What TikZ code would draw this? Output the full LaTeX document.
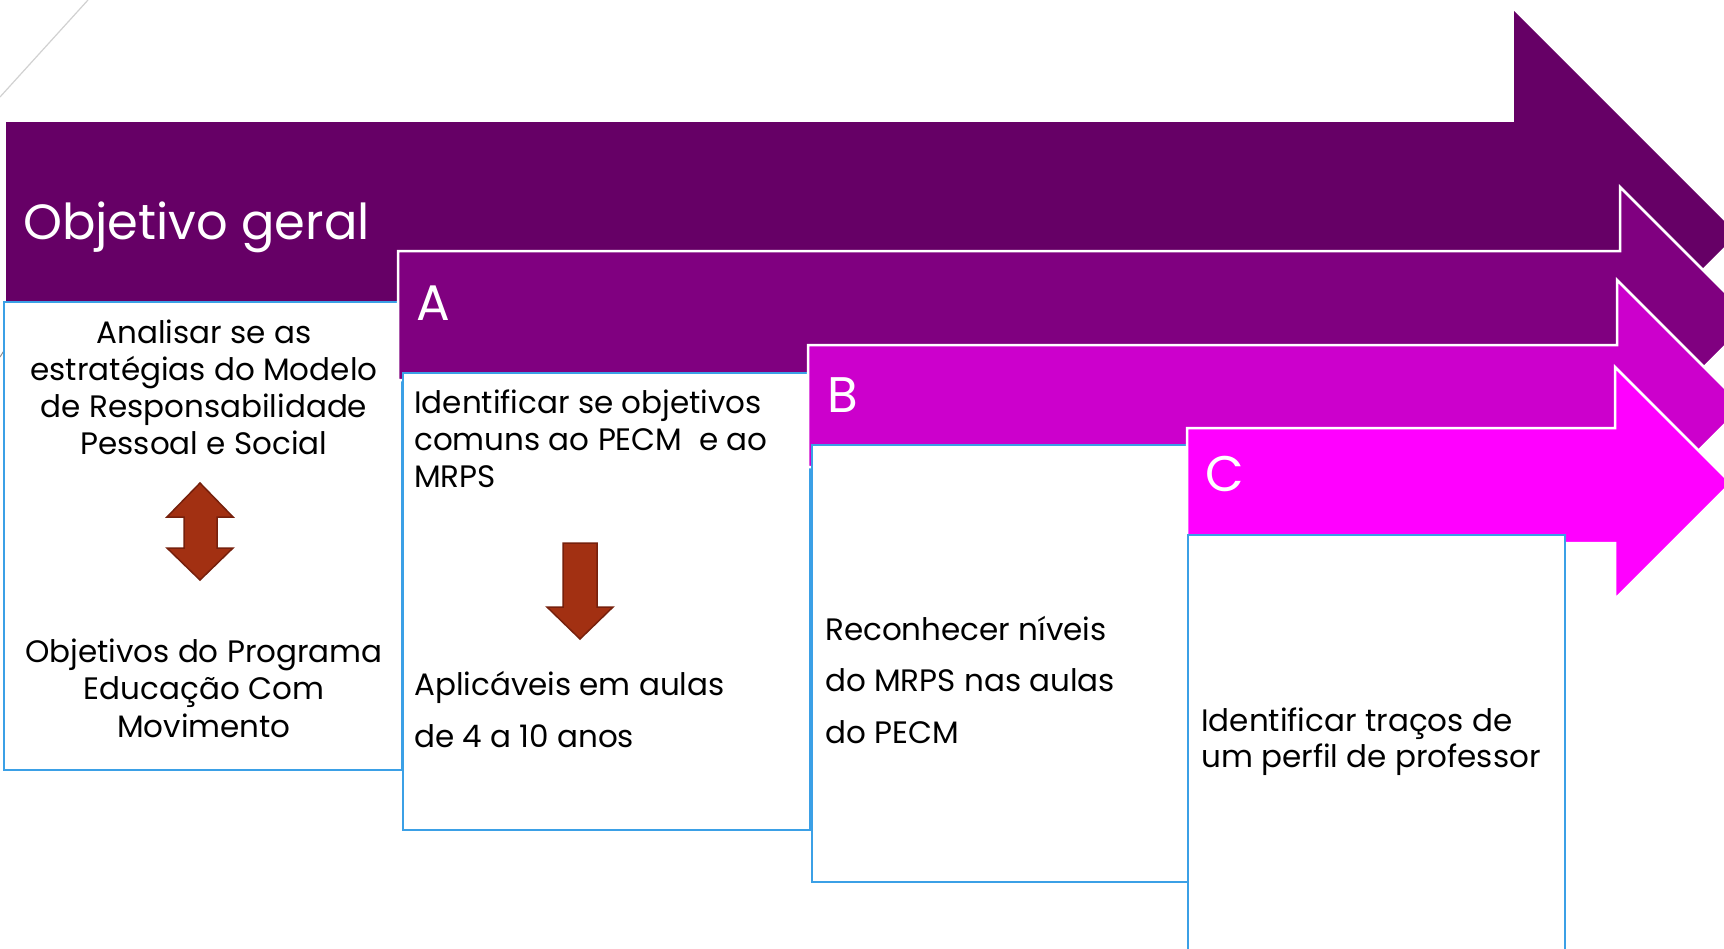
\documentclass[tikz,border=0pt]{standalone}
\usepackage{fontspec}
\setmainfont{Poppins}
\definecolor{arrZero}{HTML}{660066}
\definecolor{arrA}{HTML}{800080}
\definecolor{arrB}{HTML}{CC00CC}
\definecolor{arrC}{HTML}{FF00FF}
\definecolor{boxblue}{HTML}{3BA0E6}
\definecolor{rust}{RGB}{162,48,18}
\definecolor{rustdark}{RGB}{118,32,12}
\tikzset{
  bigarrow/.style={fill=#1, draw=white, line width=2.5pt, line join=miter},
  textbox/.style={fill=white, draw=boxblue, line width=2.8pt},
  smallarrow/.style={fill=rust, draw=rustdark, line width=1.5pt, line join=miter},
  boxtxt/.style={inner sep=0pt, font=\fontsize{31}{37}\selectfont, text=black},
  headtxt/.style={inner sep=0pt, anchor=base west, text=white, font=\fontsize{50}{60}\selectfont},
}
\begin{document}
\begin{tikzpicture}[x=1pt,y=-1pt]
\useasboundingbox (0,0) rectangle (1724,948);
\clip (0,0) rectangle (1724,948);
% faint decorative lines
\draw[black!18, line width=1.2pt] (0,97) -- (88,0);
\draw[black!45, line width=1pt] (0,357) -- (5,349);
% arrow 0
\fill[arrZero] (6,122) -- (1514,122) -- (1514,11) -- (1737,234) -- (1514,457) -- (1514,346) -- (6,346) -- cycle;
\node[headtxt, font=\fontsize{49.5}{60}\selectfont] (title) at (23,239) {Objetivo geral};
% box 0
\draw[textbox] (4,302) rectangle (402,770);
\foreach \t [count=\i] in {Analisar se as, estratégias do Modelo, de Responsabilidade, Pessoal e Social}
  \node[boxtxt, anchor=base] (g\i) at (204,{343+37*(\i-1)}) {\t};
\draw[smallarrow] (200,483) -- (233,517) -- (217,517) -- (217,548) -- (233,548) -- (200,580) -- (167,548) -- (184,548) -- (184,517) -- (167,517) -- cycle;
\foreach \t [count=\i] in {Objetivos do Programa, Educação Com, Movimento}
  \node[boxtxt, anchor=base] (p\i) at (204,{662+37.5*(\i-1)}) {\t};
% arrow A
\draw[bigarrow=arrA] (398,251) -- (1620,251) -- (1620,187) -- (1752,319) -- (1620,451) -- (1620,380) -- (398,380) -- cycle;
\node[headtxt] (la) at (416,320) {A};
% box A
\draw[textbox] (403,373) rectangle (810,830);
\foreach \t [count=\i] in {Identificar se objetivos, comuns ao PECM\ \ e ao, MRPS}
  \node[boxtxt, anchor=base west] (a\i) at (414,{413+37*(\i-1)}) {\t};
\draw[smallarrow] (563,543) -- (597,543) -- (597,607) -- (613,607) -- (580,639) -- (547,607) -- (563,607) -- cycle;
\foreach \t [count=\i] in {Aplicáveis em aulas, de 4 a 10 anos}
  \node[boxtxt, anchor=base west] (ap\i) at (414,{695+52*(\i-1)}) {\t};
% arrow B
\draw[bigarrow=arrB] (808,345) -- (1617,345) -- (1617,280) -- (1743,406) -- (1617,532) -- (1617,467) -- (808,467) -- cycle;
\node[headtxt] (lb) at (827,412) {B};
% box B
\draw[textbox] (812,445) rectangle (1190,882);
\foreach \t [count=\i] in {Reconhecer níveis, do MRPS nas aulas, do PECM}
  \node[boxtxt, anchor=base west] (b\i) at (825,{640+51.5*(\i-1)}) {\t};
% arrow C
\draw[bigarrow=arrC] (1187,428) -- (1615,428) -- (1615,367) -- (1731,483) -- (1615,599) -- (1615,543) -- (1187,543) -- cycle;
\node[headtxt] (lc) at (1205,491) {C};
% box C
\draw[textbox] (1188,535) rectangle (1565,960);
\foreach \t [count=\i] in {Identificar traços de, um perfil de professor}
  \node[boxtxt, anchor=base west] (c\i) at (1201,{731+36*(\i-1)}) {\t};
\end{tikzpicture}
\end{document}
